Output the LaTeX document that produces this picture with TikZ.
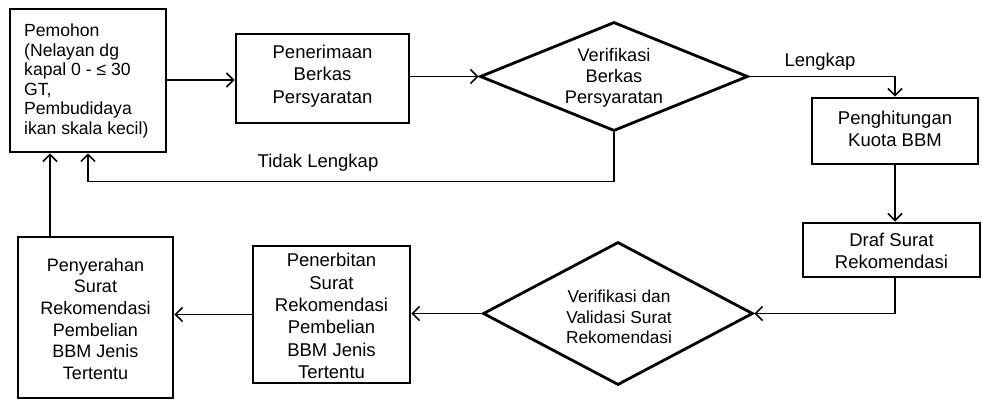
\documentclass[tikz,border=0pt]{standalone}
\usepackage{fontspec}
\setmainfont{Liberation Sans}
\usetikzlibrary{shapes.geometric,arrows.meta}
\tikzset{
  box/.style={draw=black, line width=2.9pt, rectangle, inner sep=0pt},
  dia/.style={draw=black, line width=2.8pt, diamond, inner sep=0pt},
  txt/.style={align=center, inner sep=0pt, font=\fontsize{18.5}{22.3}\selectfont},
  stxt/.style={align=center, inner sep=0pt, font=\fontsize{17.3}{20.2}\selectfont},
  conn/.style={line width=1.6pt, draw=black},
  arr/.style={conn, -{Straight Barb[length=7pt,width=14pt,line width=1.6pt]}},
}
\begin{document}
\begin{tikzpicture}[x=1pt,y=-1pt]
\useasboundingbox (0,0) rectangle (982,399);
% boxes
\node[box, minimum width=156pt, minimum height=143pt] (b1) at (88,80.5) {};
\node[anchor=west, align=left, inner sep=0pt, font=\fontsize{17.6}{19.6}\selectfont] (t1) at (24,81)
  {Pemohon\\(Nelayan dg\\kapal 0 - ≤ 30\\GT,\\Pembudidaya\\ikan skala kecil)};
\node[box, minimum width=173pt, minimum height=89pt] (b2) at (322.5,78.5) {};
\node[txt] (t2) at (322.5,76) {Penerimaan\\Berkas\\Persyaratan};
\node[dia, minimum width=268pt, minimum height=109pt] (d1) at (614,76.5) {};
\node[txt, font=\fontsize{18.2}{21}\selectfont] (t3) at (614,78) {Verifikasi\\Berkas\\Persyaratan};
\node[box, minimum width=166pt, minimum height=66pt] (b3) at (895,131) {};
\node[txt] (t4) at (895,129) {Penghitungan\\Kuota BBM};
\node[box, minimum width=177pt, minimum height=54pt] (b4) at (891.5,250) {};
\node[txt] (t5) at (891.5,251) {Draf Surat\\Rekomendasi};
\node[dia, minimum width=270pt, minimum height=143pt] (d2) at (618,313.5) {};
\node[stxt] (t6) at (619,317) {Verifikasi dan\\Validasi Surat\\Rekomendasi};
\node[box, minimum width=157pt, minimum height=137pt] (b5) at (331.5,314.5) {};
\node[txt] (t7) at (331.5,316) {Penerbitan\\Surat\\Rekomendasi\\Pembelian\\BBM Jenis\\Tertentu};
\node[box, minimum width=155pt, minimum height=161pt] (b6) at (95.5,317.5) {};
\node[txt, font=\fontsize{18}{21.7}\selectfont] (t8) at (95.5,319) {Penyerahan\\Surat\\Rekomendasi\\Pembelian\\BBM Jenis\\Tertentu};
% labels
\node[txt] (l1) at (820,62) {Lengkap};
\node[txt] (l2) at (318,163) {Tidak Lengkap};
% connectors
\draw[arr] (b1.east |- 0,80) -- (b2.west |- 0,80);
\draw[arr] (b2.east |- d1.west) -- (d1.west);
\draw[arr] (d1.east) -| (b3.north);
\draw[arr] (b3.south) -- (b3.south |- b4.north);
\draw[arr] (b4.south -| b3.south) |- (d2.east);
\draw[arr] (d2.west) -- (d2.west -| b5.east);
\draw[arr] (b5.west) -- (b5.west -| b6.east);
\draw[arr] ([xshift=-45.5pt]b6.north) -- ([xshift=-45.5pt]b6.north |- b1.south);
\draw[arr] (d1.south) |- ([yshift=-28pt]b1.south) -- (b1.south);
\end{tikzpicture}
\end{document}
